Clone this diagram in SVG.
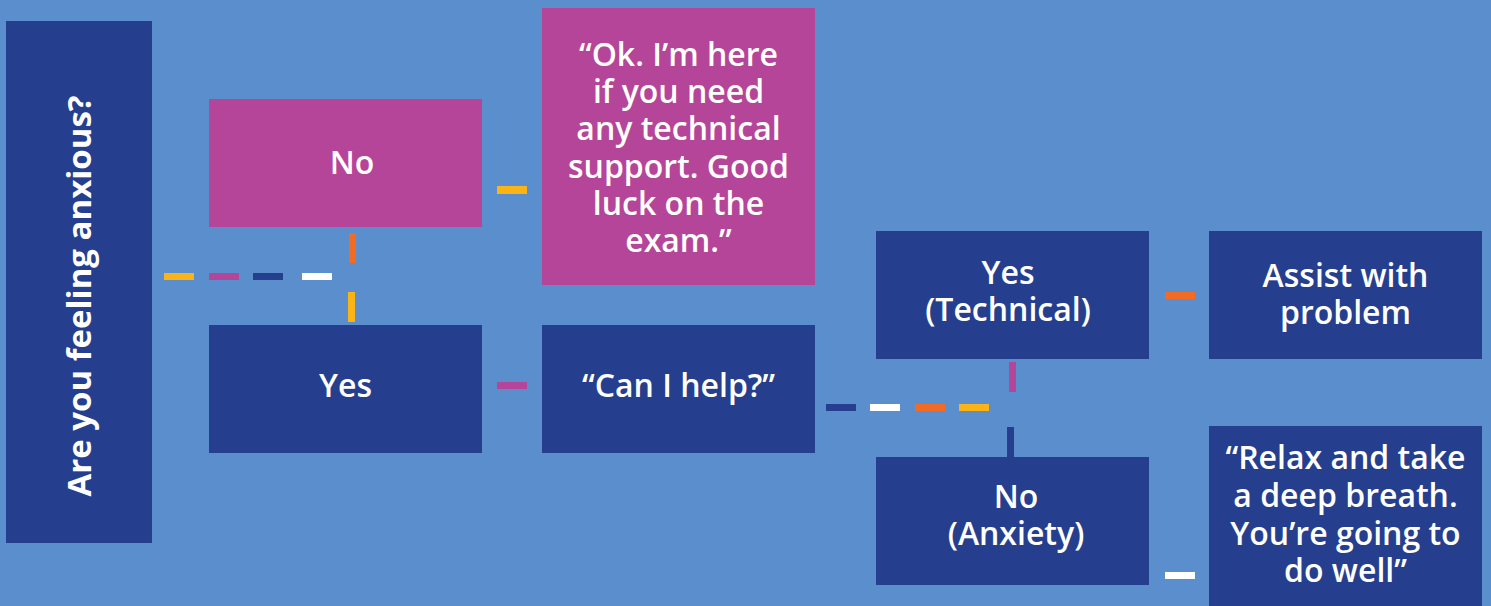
<svg xmlns="http://www.w3.org/2000/svg" width="1491" height="606" viewBox="0 0 1491 606">
<style>
.navy{fill:#253F8E}
.pink{fill:#B54598}
.t{fill:#fff;font-family:"Open Sans","Liberation Sans",sans-serif;font-weight:600;font-size:32px;text-anchor:middle}
.q{font-weight:700;font-size:33px}
.y{fill:#FBB418}.m{fill:#B54598}.n{fill:#253F8E}.w{fill:#fff}.o{fill:#F26B25}
</style>
<rect width="1491" height="606" fill="#5A8ECC"/>
<g id="question">
<rect class="navy" x="6" y="21" width="146" height="522"/>
<text class="t q" transform="translate(91,296) rotate(-90)">Are you feeling anxious?</text>
</g>
<g id="no">
<rect class="pink" x="209" y="99" width="273" height="128"/>
<text class="t" x="352" y="174">No</text>
</g>
<g id="yes">
<rect class="navy" x="209" y="325" width="273" height="128"/>
<text class="t" x="345.5" y="397">Yes</text>
</g>
<g id="ok">
<rect class="pink" x="542" y="8" width="273" height="277"/>
<text class="t" x="678.5" y="66">“Ok. I’m here</text>
<text class="t" x="678.5" y="103">if you need</text>
<text class="t" x="678.5" y="140">any technical</text>
<text class="t" x="678.5" y="178">support. Good</text>
<text class="t" x="678.5" y="215">luck on the</text>
<text class="t" x="678.5" y="252">exam.”</text>
</g>
<g id="help">
<rect class="navy" x="542" y="325" width="273" height="128"/>
<text class="t" x="678.5" y="397">“Can I help?”</text>
</g>
<g id="technical">
<rect class="navy" x="876" y="231" width="273" height="128"/>
<text class="t" x="1008" y="284">Yes</text>
<text class="t" x="1008" y="321">(Technical)</text>
</g>
<g id="anxiety">
<rect class="navy" x="876" y="457" width="273" height="128"/>
<text class="t" x="1016" y="508">No</text>
<text class="t" x="1016" y="545">(Anxiety)</text>
</g>
<g id="assist">
<rect class="navy" x="1209" y="231" width="273" height="128"/>
<text class="t" x="1345.5" y="287">Assist with</text>
<text class="t" x="1345.5" y="324">problem</text>
</g>
<g id="relax">
<rect class="navy" x="1209" y="426" width="273" height="190"/>
<text class="t" x="1345.5" y="469">“Relax and take</text>
<text class="t" x="1345.5" y="507">a deep breath.</text>
<text class="t" x="1345.5" y="545">You’re going to</text>
<text class="t" x="1345.5" y="582">do well”</text>
</g>
<g id="connectors">
<rect class="y" x="164" y="273" width="30" height="7"/>
<rect class="m" x="209" y="273" width="30" height="7"/>
<rect class="n" x="253" y="273" width="30" height="7"/>
<rect class="w" x="302" y="273" width="30" height="7"/>
<rect class="o" x="349" y="233" width="7" height="30"/>
<rect class="y" x="348" y="292" width="7" height="30"/>
<rect class="y" x="497" y="186" width="30" height="8"/>
<rect class="m" x="497" y="382" width="30" height="7"/>
<rect class="n" x="826" y="404" width="30" height="7"/>
<rect class="w" x="870" y="404" width="30" height="7"/>
<rect class="o" x="915" y="404" width="30" height="7"/>
<rect class="y" x="959" y="404" width="30" height="7"/>
<rect class="m" x="1009" y="362" width="7" height="30"/>
<rect class="n" x="1007" y="427" width="7" height="30"/>
<rect class="o" x="1165" y="292" width="30" height="7"/>
<rect class="w" x="1165" y="572" width="30" height="7"/>
</g>
</svg>
